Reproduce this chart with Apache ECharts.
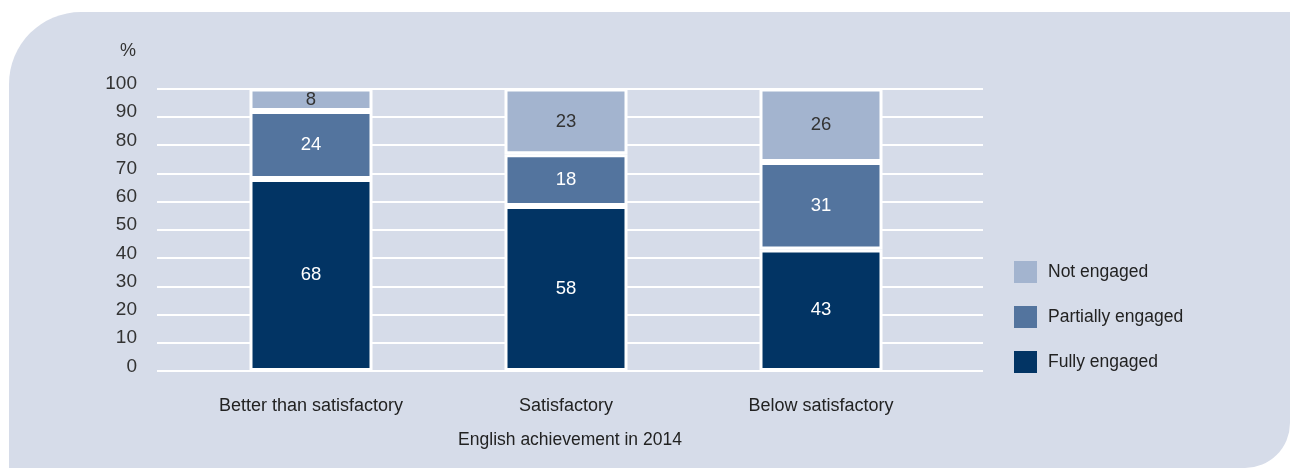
<!DOCTYPE html>
<html>
<head>
<meta charset="utf-8">
<script src="https://cdn.jsdelivr.net/npm/echarts@6/dist/echarts.min.js"></script>
<style>
html,body{margin:0;padding:0;background:#ffffff;}
#chart{width:1290px;height:468px;}
</style>
</head>
<body>
<div id="chart"></div>
<script>
const categories = ['Better than satisfactory', 'Satisfactory', 'Below satisfactory'];
const fullyEngaged = [68, 58.4, 43];
const partiallyEngaged = [24, 18.3, 31];
const notEngaged = [8, 23.3, 26];
const seriesNames = ['Fully engaged', 'Partially engaged', 'Not engaged'];
const yTicks = [0, 10, 20, 30, 40, 50, 60, 70, 80, 90, 100];
const xTitle = 'English achievement in 2014';
const yUnit = '%';

const FONT = '"Liberation Sans", Arial, sans-serif';
const FS = 17.5;
const colors = ['#023464', '#53749e', '#a3b4cf'];
const labelColors = ['#ffffff', '#ffffff', '#333333'];

function makeSeries(name, data, idx) {
  return {
    name: name,
    type: 'bar',
    stack: 'total',
    xAxisIndex: 1,
    yAxisIndex: 1,
    barWidth: 123,
    data: data,
    itemStyle: { color: colors[idx], borderColor: '#ffffff', borderWidth: 3 },
    label: {
      show: true,
      position: 'inside',
      color: labelColors[idx],
      fontFamily: FONT,
      fontSize: 18.5,
      formatter: p => String(Math.round(p.value))
    },
    emphasis: { disabled: true }
  };
}

const chart = echarts.init(document.getElementById('chart'), null, { renderer: 'canvas' });
chart.setOption({
  animation: false,
  backgroundColor: '#ffffff',
  textStyle: { fontFamily: FONT },
  graphic: [
    {
      type: 'rect', z: -10, silent: true,
      shape: { x: 9, y: 12, width: 1281, height: 456, r: [72, 0, 45, 0] },
      style: { fill: '#d6dce9' }
    },
    {
      type: 'text', z: 10, silent: true,
      x: 128, y: 51,
      style: { text: yUnit, fill: '#333333', font: '18px ' + FONT, align: 'center', verticalAlign: 'middle' }
    }
  ],
  legend: {
    orient: 'vertical',
    left: 1014,
    top: 261,
    padding: 0,
    itemWidth: 23,
    itemHeight: 22,
    itemGap: 23,
    icon: 'rect',
    itemStyle: { borderWidth: 0 },
    data: ['Not engaged', 'Partially engaged', 'Fully engaged'],
    textStyle: { color: '#222222', fontFamily: FONT, fontSize: FS, padding: [0, 0, 0, 6] },
    selectedMode: false
  },
  grid: [
    { left: 157, right: 307, top: 88.5, bottom: 97 },
    { left: 183.5, right: 341.5, top: 88.5, bottom: 97 }
  ],
  xAxis: [
    {
      gridIndex: 0, type: 'value', min: 0, max: 1,
      axisLine: { show: false }, axisTick: { show: false }, axisLabel: { show: false },
      splitLine: { show: false },
      name: xTitle, nameLocation: 'middle', nameGap: 60,
      nameTextStyle: { color: '#222222', fontFamily: FONT, fontSize: FS }
    },
    {
      gridIndex: 1, type: 'category', data: categories,
      axisLine: { show: false }, axisTick: { show: false },
      axisLabel: { color: '#222222', fontFamily: FONT, fontSize: 18, margin: 26 }
    }
  ],
  yAxis: [
    {
      gridIndex: 0, type: 'value', min: 0, max: 100, interval: 10,
      axisLine: { show: false }, axisTick: { show: false },
      axisLabel: {
        color: '#333333', fontFamily: FONT, fontSize: 19, margin: 20,
        verticalAlign: 'bottom', lineHeight: 9,
        formatter: v => yTicks.includes(v) ? String(v) : ''
      },
      splitLine: { show: true, lineStyle: { color: '#ffffff', width: 2 } }
    },
    {
      gridIndex: 1, type: 'value', min: 0, max: 100, show: false,
      splitLine: { show: false }
    }
  ],
  series: [
    makeSeries(seriesNames[0], fullyEngaged, 0),
    makeSeries(seriesNames[1], partiallyEngaged, 1),
    makeSeries(seriesNames[2], notEngaged, 2)
  ]
});
</script>
</body>
</html>
